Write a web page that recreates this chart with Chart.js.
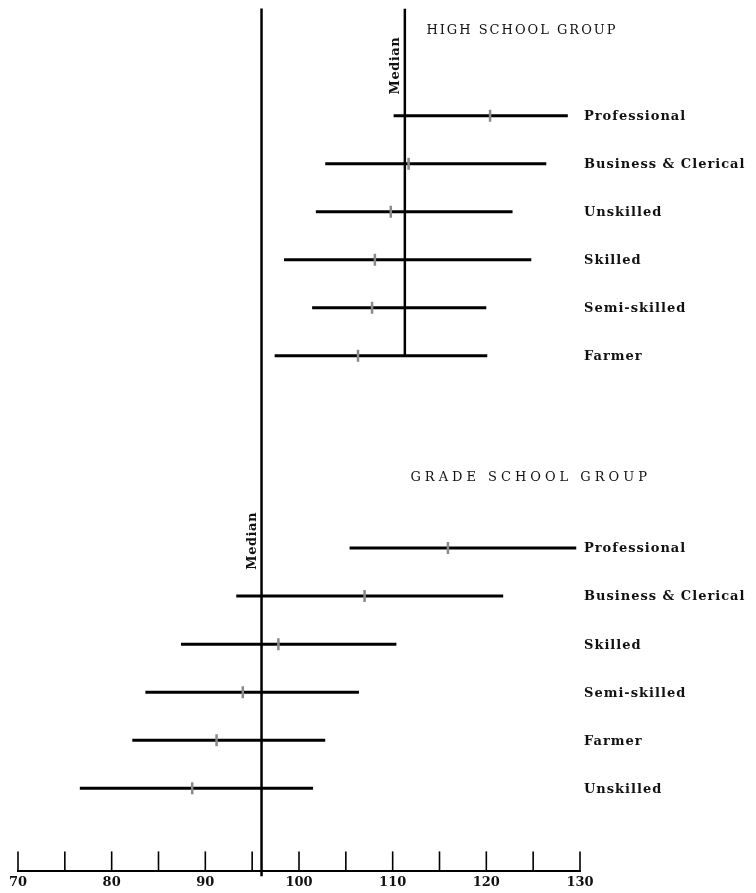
<!DOCTYPE html>
<html>
<head>
<meta charset="utf-8">
<script src="https://cdn.jsdelivr.net/npm/chart.js@4"></script>
<style>
  html, body { margin: 0; padding: 0; background: #fff; }
  #wrap { width: 756px; height: 893px; }
</style>
</head>
<body>
<div id="wrap"><canvas id="myChart" width="756" height="893"></canvas></div>
<script>
// High school group: range (low-high) and median of each occupational group
const hsGroups = ['Professional', 'Business & Clerical', 'Unskilled', 'Skilled', 'Semi-skilled', 'Farmer'];
const hsLow = [110.1, 102.8, 101.8, 98.4, 101.4, 97.4];
const hsHigh = [128.7, 126.4, 122.8, 124.8, 120.0, 120.1];
const hsMid = [120.4, 111.7, 109.8, 108.1, 107.8, 106.3];
const hsMedian = 111.3;

// Grade school group
const gsGroups = ['Professional', 'Business & Clerical', 'Skilled', 'Semi-skilled', 'Farmer', 'Unskilled'];
const gsLow = [105.4, 93.3, 87.4, 83.6, 82.2, 76.6];
const gsHigh = [129.6, 121.8, 110.4, 106.4, 102.8, 101.5];
const gsMid = [115.9, 107.0, 97.8, 94.0, 91.2, 88.6];
const gsMedian = 96.0;

const xTicks = [70, 80, 90, 100, 110, 120, 130];

// row numbers: high school rows 0..5, grade school rows 9..14
const hsRows = hsGroups.map((g, i) => i);
const gsRows = gsGroups.map((g, i) => i + 9);
const yTop = -2.23, yBottom = 15.73;

const serif = '"DejaVu Serif", "Liberation Serif", serif';

var datasets = [];

// median marks (drawn on top)
datasets.push({
  data: hsMid.map((v, i) => ({ x: v, y: hsRows[i] })).concat(gsMid.map((v, i) => ({ x: v, y: gsRows[i] }))),
  showLine: false,
  pointStyle: 'line',
  rotation: 90,
  pointRadius: 6,
  pointBorderWidth: 2.5,
  borderColor: '#8a8a8a',
  backgroundColor: '#8a8a8a'
});

// range lines
function rangeLine(lo, hi, r) {
  return {
    data: [{ x: lo, y: r }, { x: hi, y: r }],
    showLine: true,
    borderColor: '#000',
    borderWidth: 3,
    pointRadius: 0
  };
}
hsRows.forEach((r, i) => datasets.push(rangeLine(hsLow[i], hsHigh[i], r)));
gsRows.forEach((r, i) => datasets.push(rangeLine(gsLow[i], gsHigh[i], r)));

// median lines
datasets.push({
  data: [{ x: hsMedian, y: yTop }, { x: hsMedian, y: hsRows[hsRows.length - 1] }],
  showLine: true, borderColor: '#000', borderWidth: 2.5, pointRadius: 0
});
datasets.push({
  data: [{ x: gsMedian, y: yTop }, { x: gsMedian, y: yBottom + 0.1 }],
  showLine: true, borderColor: '#000', borderWidth: 2.5, pointRadius: 0, clip: false
});

const textPlugin = {
  id: 'textPlugin',
  afterDraw(chart) {
    const ctx = chart.ctx;
    const xs = chart.scales.x, ys = chart.scales.y;
    const area = chart.chartArea;
    ctx.save();

    // upward tick marks on the axis
    ctx.strokeStyle = '#000';
    ctx.lineWidth = 1.6;
    xs.ticks.forEach(t => {
      const px = xs.getPixelForValue(t.value);
      ctx.beginPath();
      ctx.moveTo(px, area.bottom);
      ctx.lineTo(px, area.bottom - 20);
      ctx.stroke();
    });

    // row labels
    ctx.fillStyle = '#111';
    ctx.font = 'bold 13px ' + serif;
    ctx.textBaseline = 'middle';
    ctx.textAlign = 'left';
    ctx.letterSpacing = '1px';
    const lx = area.right + 4;
    hsGroups.forEach((g, i) => ctx.fillText(g, lx, ys.getPixelForValue(hsRows[i]) + 1));
    gsGroups.forEach((g, i) => ctx.fillText(g, lx, ys.getPixelForValue(gsRows[i]) + 1));

    // group titles
    ctx.font = '13px ' + serif;
    ctx.letterSpacing = '2px';
    ctx.fillText('HIGH SCHOOL GROUP', xs.getPixelForValue(113.6), ys.getPixelForValue(-1.77));
    ctx.letterSpacing = '4px';
    ctx.fillText('GRADE SCHOOL GROUP', xs.getPixelForValue(111.9), ys.getPixelForValue(7.54));

    // "Median" labels, rotated
    ctx.font = 'bold 13px ' + serif;
    ctx.letterSpacing = '0.5px';
    ctx.textAlign = 'center';
    [[hsMedian, -1.04], [gsMedian, 8.85]].forEach(([m, r]) => {
      ctx.save();
      ctx.translate(xs.getPixelForValue(m) - 9, ys.getPixelForValue(r));
      ctx.rotate(-Math.PI / 2);
      ctx.fillText('Median', 0, 0);
      ctx.restore();
    });
    ctx.restore();
  }
};

var ctx = document.getElementById('myChart').getContext('2d');

var myChart = new Chart(ctx, {
  type: 'scatter',
  data: { datasets: datasets },
  options: {
    responsive: false,
    animation: false,
    layout: { padding: { left: 18, right: 176, top: 8, bottom: 0 } },
    plugins: { legend: { display: false }, tooltip: { enabled: false } },
    scales: {
      x: {
        type: 'linear',
        min: 70,
        max: 130,
        ticks: {
          stepSize: 5,
          autoSkip: false,
          maxRotation: 0,
          padding: 3,
          color: '#111',
          font: { family: serif, size: 13, weight: 'bold' },
          callback: v => xTicks.includes(v) ? String(v) : ''
        },
        grid: { display: true, drawOnChartArea: false, drawTicks: false },
        border: { display: true, color: '#000', width: 2 }
      },
      y: {
        type: 'linear',
        display: false,
        reverse: true,
        min: yTop,
        max: yBottom
      }
    }
  },
  plugins: [textPlugin]
});
</script>
</body>
</html>
